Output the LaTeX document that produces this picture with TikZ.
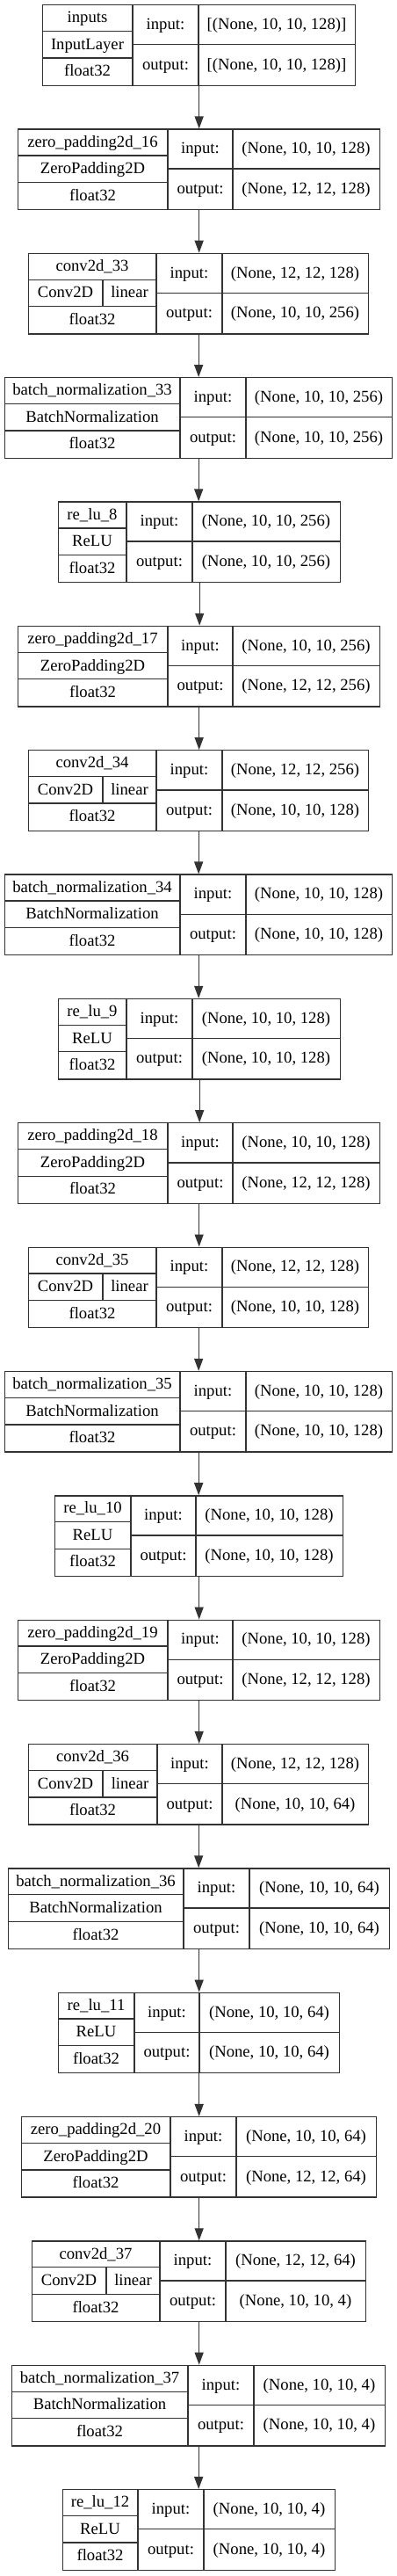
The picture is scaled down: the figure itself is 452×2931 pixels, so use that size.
\documentclass[tikz,border=0pt]{standalone}
\usepackage{fontspec}
\setmainfont{Liberation Serif}
\usetikzlibrary{arrows.meta}
\tikzset{
  ln/.style={line width=1.33pt, draw=black!80},
  boxshape/.style={ln, rectangle, inner sep=0pt, anchor=north west, minimum height=91.5pt},
  txt/.style={inner sep=0pt, anchor=base, font=\fontsize{18.67}{22}\selectfont},
  arr/.style={ln, -{Triangle[length=14pt,width=10pt]}, fill=black!80},
}
\newcommand\Lgeom[5]{%
  \pgfmathsetmacro\Ltop{5+#1*141.35}%
  \pgfmathsetmacro\Lra{\Ltop+91.5/3}%
  \pgfmathsetmacro\Lrb{\Ltop+2*91.5/3}%
  \pgfmathsetmacro\Lbot{\Ltop+91.5}%
  \pgfmathsetmacro\Lmid{\Ltop+91.5/2}%
  \pgfmathsetmacro\Lw{#5-#2}%
  \pgfmathsetmacro\Lxa{(#2+#3)/2}%
  \pgfmathsetmacro\Lxb{(#3+#4)/2}%
  \pgfmathsetmacro\Lxc{(#4+#5)/2}%
  \pgfmathsetmacro\Lya{\Ltop+91.5/6+5.5}%
  \pgfmathsetmacro\Lyb{\Ltop+91.5/2+5.5}%
  \pgfmathsetmacro\Lyc{\Ltop+5*91.5/6+5.5}%
  \pgfmathsetmacro\Lyi{\Ltop+91.5/4+5.5}%
  \pgfmathsetmacro\Lyo{\Ltop+3*91.5/4+5.5}%
  \node[boxshape, minimum width=\Lw pt] (b#1) at (#2,\Ltop) {};
  \draw[ln] (#3,\Ltop) -- (#3,\Lbot) (#4,\Ltop) -- (#4,\Lbot)
            (#2,\Lra) -- (#3,\Lra) (#2,\Lrb) -- (#3,\Lrb)
            (#3,\Lmid) -- (#5,\Lmid);
}
% \lyr{i}{left}{c1}{c2}{right}{name}{type}{in}{out}
\newcommand\lyr[9]{%
  \Lgeom{#1}{#2}{#3}{#4}{#5}%
  \node[txt] (b#1n) at (\Lxa,\Lya) {#6};
  \node[txt] (b#1t) at (\Lxa,\Lyb) {#7};
  \node[txt] (b#1d) at (\Lxa,\Lyc) {float32};
  \node[txt] (b#1i) at (\Lxb,\Lyi) {input:};
  \node[txt] (b#1o) at (\Lxb,\Lyo) {output:};
  \node[txt] (b#1is) at (\Lxc,\Lyi) {#8};
  \node[txt] (b#1os) at (\Lxc,\Lyo) {#9};
}
% \convlyr{i}{left}{c1}{c2}{right}{name}{in}{out}
\newcommand\convlyr[8]{%
  \Lgeom{#1}{#2}{#3}{#4}{#5}%
  \pgfmathsetmacro\Lsp{#2+85}%
  \pgfmathsetmacro\Lxs{(#2+\Lsp)/2}%
  \pgfmathsetmacro\Lxt{(\Lsp+#3)/2}%
  \draw[ln] (\Lsp,\Lra) -- (\Lsp,\Lrb);
  \node[txt] (b#1n) at (\Lxa,\Lya) {#6};
  \node[txt] (b#1t) at (\Lxs,\Lyb) {Conv2D};
  \node[txt] (b#1a) at (\Lxt,\Lyb) {linear};
  \node[txt] (b#1d) at (\Lxa,\Lyc) {float32};
  \node[txt] (b#1i) at (\Lxb,\Lyi) {input:};
  \node[txt] (b#1o) at (\Lxb,\Lyo) {output:};
  \node[txt] (b#1is) at (\Lxc,\Lyi) {#7};
  \node[txt] (b#1os) at (\Lxc,\Lyo) {#8};
}
\begin{document}
\begin{tikzpicture}[x=1pt,y=-1pt]
\fill[white] (0,0) rectangle (452,2931);
\useasboundingbox (0,0) rectangle (452,2931);
\lyr{0}{48}{151}{226}{404}{inputs}{InputLayer}{[(None, 10, 10, 128)]}{[(None, 10, 10, 128)]}
\lyr{1}{20}{191}{265}{432}{zero\_padding2d\_16}{ZeroPadding2D}{(None, 10, 10, 128)}{(None, 12, 12, 128)}
\convlyr{2}{32}{178}{253}{419}{conv2d\_33}{(None, 12, 12, 128)}{(None, 10, 10, 256)}
\lyr{3}{5}{205}{280}{446}{batch\_normalization\_33}{BatchNormalization}{(None, 10, 10, 256)}{(None, 10, 10, 256)}
\lyr{4}{66}{144}{219}{387}{re\_lu\_8}{ReLU}{(None, 10, 10, 256)}{(None, 10, 10, 256)}
\lyr{5}{20}{191}{265}{432}{zero\_padding2d\_17}{ZeroPadding2D}{(None, 10, 10, 256)}{(None, 12, 12, 256)}
\convlyr{6}{32}{178}{253}{419}{conv2d\_34}{(None, 12, 12, 256)}{(None, 10, 10, 128)}
\lyr{7}{5}{205}{280}{446}{batch\_normalization\_34}{BatchNormalization}{(None, 10, 10, 128)}{(None, 10, 10, 128)}
\lyr{8}{66}{144}{219}{387}{re\_lu\_9}{ReLU}{(None, 10, 10, 128)}{(None, 10, 10, 128)}
\lyr{9}{20}{191}{265}{432}{zero\_padding2d\_18}{ZeroPadding2D}{(None, 10, 10, 128)}{(None, 12, 12, 128)}
\convlyr{10}{32}{178}{253}{419}{conv2d\_35}{(None, 12, 12, 128)}{(None, 10, 10, 128)}
\lyr{11}{5}{205}{280}{446}{batch\_normalization\_35}{BatchNormalization}{(None, 10, 10, 128)}{(None, 10, 10, 128)}
\lyr{12}{62}{149}{223}{390}{re\_lu\_10}{ReLU}{(None, 10, 10, 128)}{(None, 10, 10, 128)}
\lyr{13}{20}{191}{265}{432}{zero\_padding2d\_19}{ZeroPadding2D}{(None, 10, 10, 128)}{(None, 12, 12, 128)}
\convlyr{14}{32}{179}{253}{419}{conv2d\_36}{(None, 12, 12, 128)}{(None, 10, 10, 64)}
\lyr{15}{9}{209}{284}{443}{batch\_normalization\_36}{BatchNormalization}{(None, 10, 10, 64)}{(None, 10, 10, 64)}
\lyr{16}{66}{153}{227}{386}{re\_lu\_11}{ReLU}{(None, 10, 10, 64)}{(None, 10, 10, 64)}
\lyr{17}{24}{194}{269}{428}{zero\_padding2d\_20}{ZeroPadding2D}{(None, 10, 10, 64)}{(None, 12, 12, 64)}
\convlyr{18}{36}{182}{257}{416}{conv2d\_37}{(None, 12, 12, 64)}{(None, 10, 10, 4)}
\lyr{19}{13}{214}{289}{438}{batch\_normalization\_37}{BatchNormalization}{(None, 10, 10, 4)}{(None, 10, 10, 4)}
\lyr{20}{71}{157}{232}{381}{re\_lu\_12}{ReLU}{(None, 10, 10, 4)}{(None, 10, 10, 4)}
\foreach \i [evaluate=\i as \j using int(\i+1)] in {0,...,19}{
  \draw[arr] (b\i.south) -- (b\i.south |- b\j.north);
}
\end{tikzpicture}
\end{document}
